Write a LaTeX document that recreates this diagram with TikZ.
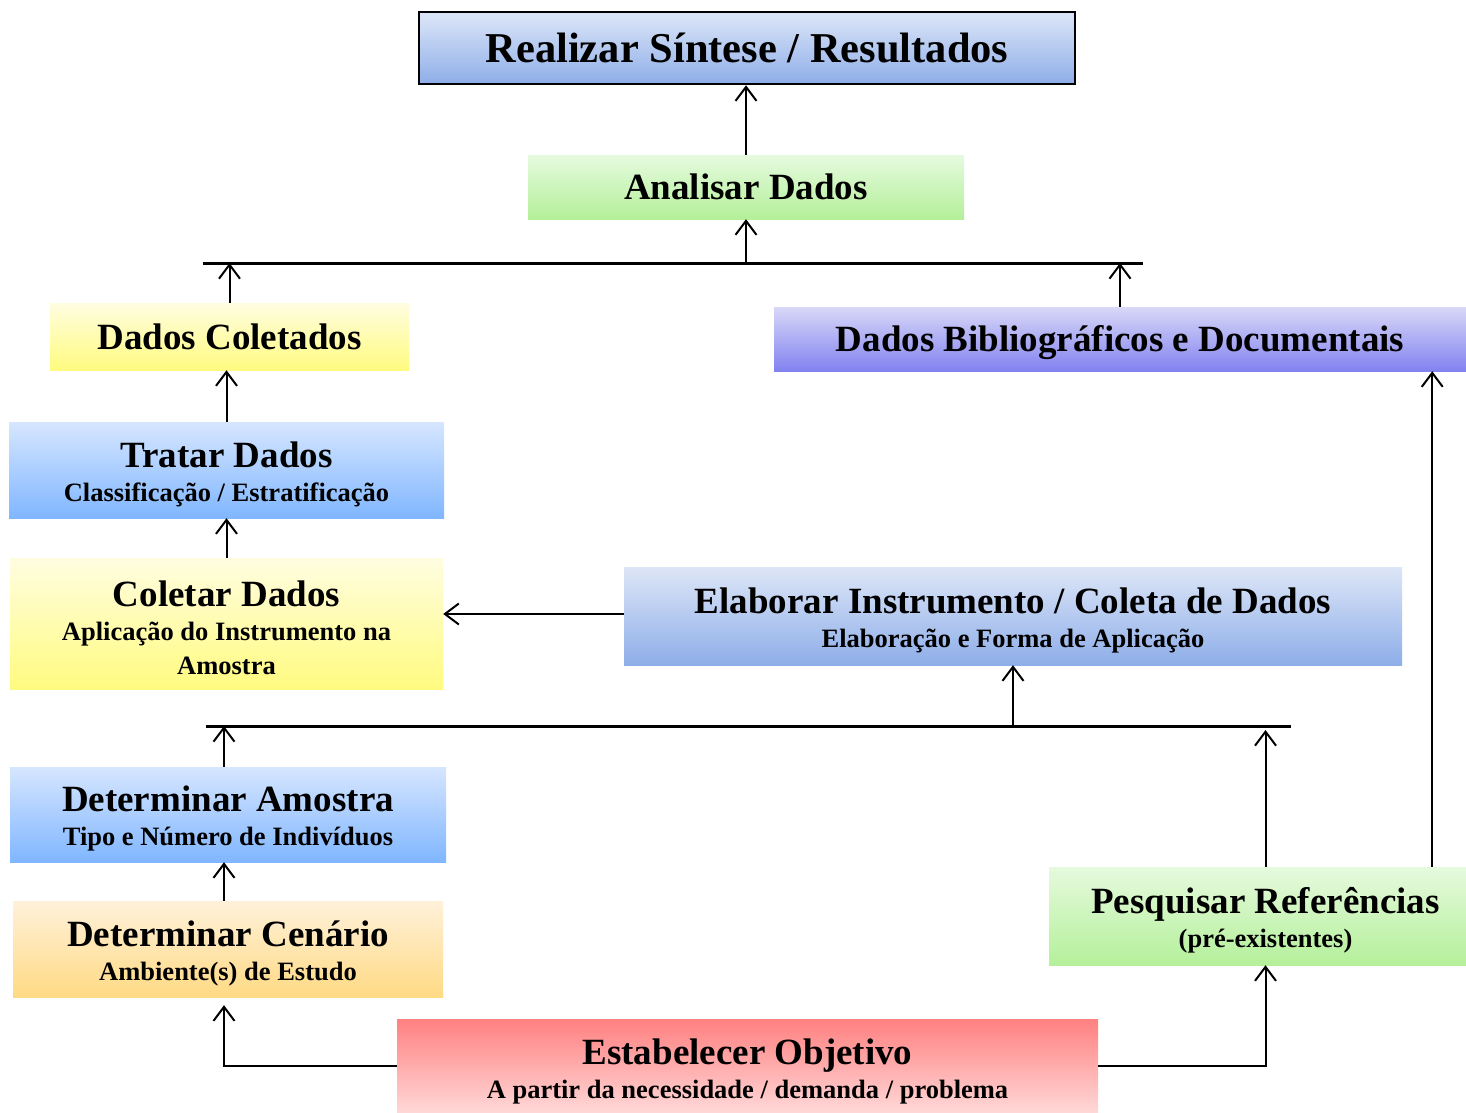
\documentclass[tikz,border=0pt]{standalone}
\usepackage{fontspec}
\setmainfont{Liberation Serif}
\usetikzlibrary{arrows.meta,shadings}

% box palettes (top / bottom of each vertical gradient)
\definecolor{steelT}{HTML}{DDE6F7}\definecolor{steelB}{HTML}{8EAEE9}
\definecolor{greenT}{HTML}{E6FADE}\definecolor{greenB}{HTML}{B4F09A}
\definecolor{yellT}{HTML}{FFFDE0}\definecolor{yellB}{HTML}{FFFB80}
\definecolor{violT}{HTML}{D8D8F8}\definecolor{violB}{HTML}{8282F0}
\definecolor{skyT}{HTML}{D6E6FF}\definecolor{skyB}{HTML}{80B6FF}
\definecolor{amberT}{HTML}{FFF1DA}\definecolor{amberB}{HTML}{FFDA84}
\definecolor{roseT}{HTML}{FF8080}\definecolor{roseB}{HTML}{FFD8D8}

\newcommand{\titlesize}{\fontsize{37}{34}\selectfont\bfseries}
\newcommand{\subsize}{\fontsize{26.5}{31}\selectfont\bfseries}

\tikzset{
  box/.style={rectangle, inner sep=0pt},
  txt/.style={inner sep=0pt, align=center, font=\titlesize},
  steel/.style={box, top color=steelT, bottom color=steelB},
  green/.style={box, top color=greenT, bottom color=greenB},
  yell/.style={box, top color=yellT, bottom color=yellB},
  viol/.style={box, top color=violT, bottom color=violB},
  sky/.style={box, top color=skyT, bottom color=skyB},
  amber/.style={box, top color=amberT, bottom color=amberB},
  rose/.style={box, top color=roseT, bottom color=roseB},
  arr/.style={line width=2pt, -{Straight Barb[length=14pt, width=21pt, line width=2pt]}},
  bus/.style={line width=3pt},
}

\begin{document}
\begin{tikzpicture}[x=1pt, y=-1pt]
\useasboundingbox (0,0) rectangle (1466,1112);

% top of the flow
\node[steel, draw=black, line width=2.5pt, minimum width=656, minimum height=72] (realizar) at (747,48) {};
\node[txt, font=\fontsize{42.5}{40}\selectfont\bfseries] (realizarT) at (realizar.center) {Realizar Síntese / Resultados};
\node[green, minimum width=436, minimum height=64] (analisar) at (746,187) {};
\node[txt] (analisarT) at (analisar.center) {Analisar Dados};

% collected data branch
\node[yell, minimum width=359, minimum height=67] (coletados) at (229.5,336.5) {};
\node[txt] (coletadosT) at (coletados.center) {Dados Coletados};
\node[sky, minimum width=435, minimum height=96] (tratar) at (226.5,470) {};
\node[txt] (tratarT) at ([yshift=-4pt]tratar.center)
  {Tratar Dados\\\subsize Classificação / Estratificação};
\node[yell, minimum width=433, minimum height=131] (coletar) at (226.5,623.5) {};
\node[txt] (coletarT) at ([yshift=-4pt]coletar.center)
  {Coletar Dados\\\subsize Aplicação do Instrumento na\\\subsize Amostra};
\node[sky, minimum width=436, minimum height=95] (amostra) at (228,814.5) {};
\node[txt] (amostraT) at ([yshift=-4pt]amostra.center)
  {Determinar Amostra\\\subsize Tipo e Número de Indivíduos};
\node[amber, minimum width=430, minimum height=96] (cenario) at (228,949) {};
\node[txt] (cenarioT) at ([yshift=-4pt]cenario.center)
  {Determinar Cenário\\\subsize Ambiente(s) de Estudo};

% bibliographic branch
\node[viol, minimum width=692, minimum height=64] (biblio) at (1120,339) {};
\node[txt] (biblioT) at ([yshift=-4pt]biblio.center) {Dados Bibliográficos e Documentais};
\node[steel, minimum width=778, minimum height=98] (elaborar) at (1013,616) {};
\node[txt] (elaborarT) at ([yshift=-4pt]elaborar.center)
  {Elaborar Instrumento / Coleta de Dados\\\subsize Elaboração e Forma de Aplicação};
\node[green, minimum width=417, minimum height=98] (pesquisar) at (1257.5,916) {};
\node[txt] (pesquisarT) at ([xshift=8pt,yshift=-4pt]pesquisar.center)
  {Pesquisar Referências\\\subsize (pré-existentes)};

% starting point
\node[rose, minimum width=701, minimum height=94] (objetivo) at (747.5,1066) {};
\node[txt] (objetivoT) at ([yshift=-5pt]objetivo.center)
  {Estabelecer Objetivo\\\subsize A partir da necessidade / demanda / problema};

% joining bars
\coordinate (busAL) at (203,263);
\coordinate (busAR) at (1143,263);
\coordinate (busBL) at (206,726);
\coordinate (busBR) at (1291,726);
\draw[bus] (busAL) -- (busAR);
\draw[bus] (busBL) -- (busBR);

% connectors
\draw[arr] (analisar.north) -- (analisar.north |- realizar.south);
\draw[arr] (analisar.south |- busAL) -- (analisar.south);
\draw[arr] (coletados.north) -- (coletados.north |- busAL);
\draw[arr] (biblio.north) -- (biblio.north |- busAL);
\draw[arr] (tratar.north) -- (tratar.north |- coletados.south);
\draw[arr] (coletar.north) -- (coletar.north |- tratar.south);
\draw[arr] ([yshift=2pt]elaborar.west) -- ([yshift=2pt]elaborar.west -| coletar.east);
\draw[arr] (elaborar.south |- busBL) -- (elaborar.south);
\draw[arr] ([xshift=-4pt]amostra.north) -- ([xshift=-4pt]amostra.north |- busBL);
\draw[arr] ([xshift=-4pt]cenario.north) -- ([xshift=-4pt]cenario.north |- amostra.south);
\draw[arr] ([xshift=8pt]pesquisar.north) -- ([xshift=8pt,yshift=-4pt]pesquisar.north |- busBL);
\draw[arr] ([xshift=-34pt]pesquisar.north east) -- ([xshift=-34pt]biblio.south east);
\draw[arr] (objetivo.west) -| ([xshift=-4pt,yshift=-8pt]cenario.south);
\draw[arr] (objetivo.east) -| ([xshift=8pt]pesquisar.south);
\end{tikzpicture}
\end{document}
